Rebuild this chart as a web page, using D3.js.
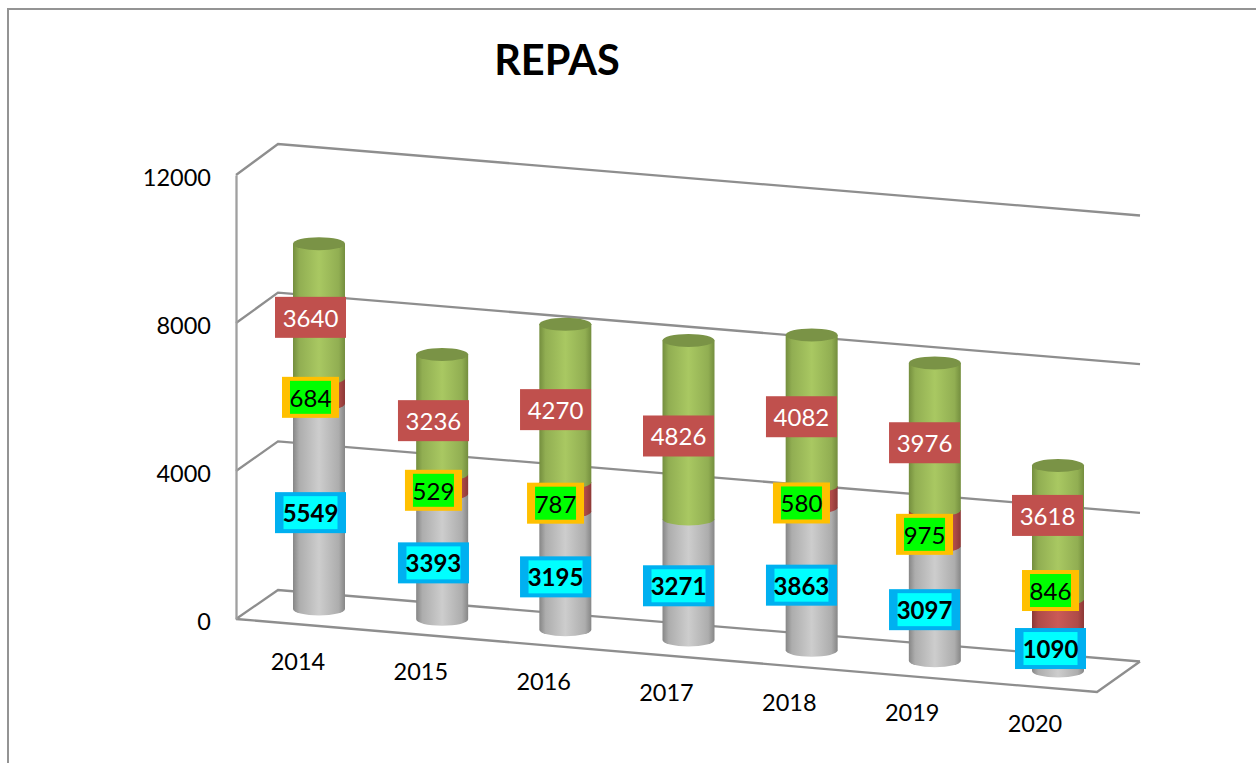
<!DOCTYPE html>
<html><head><meta charset="utf-8">
<script src="https://cdn.jsdelivr.net/npm/d3@7/dist/d3.min.js"></script>
<style>html,body{margin:0;background:#fff}svg{display:block}text{font-family:Lato,"Open Sans",sans-serif}</style>
</head><body><svg id="c" width="1256" height="763"></svg>
<script>
const years = [2014,2015,2016,2017,2018,2019,2020];
const grayValues = [5549,3393,3195,3271,3863,3097,1090];
const redValues = [684,529,787,null,580,975,846];
const greenValues = [3640,3236,4270,4826,4082,3976,3618];
const yTicks = [0,4000,8000,12000];
const chartTitle = "REPAS";

const W=1256,H=763;
const svg=d3.select("#c");
const defs=svg.append("defs");
const y=d3.scaleLinear().domain([0,12000]).range([619,175]);
const yBack=d3.scaleLinear().domain([0,12000]).range([590,144]);
const idx=d3.scaleLinear().domain([0,years.length-1]);
const x=d3.scalePoint().domain(years).range([319,1058]);
const base=idx.copy().range([609,671]);
const labelX=idx.copy().range([298,1035]);
const rx=26, ry=6.5;
const backLeft=278, backRight=1140, backDrop=71.5;
const floorRight=1097, floorDrop=73;

function grad(id,edge,mid){
  const g=defs.append("linearGradient").attr("id",id);
  [[0,edge],[.12,d3.interpolateRgb(edge,mid)(.55)],[.5,mid],[.88,d3.interpolateRgb(edge,mid)(.55)],[1,edge]]
    .forEach(([o,c])=>g.append("stop").attr("offset",o).attr("stop-color",c));
}
grad("gGray","#868686","#cdcdcd");
grad("gRed","#8c3836","#cb5a57");
grad("gGreen","#748e3e","#a9c862");

// frame
svg.append("path").attr("d",`M8,763V9H1256`).attr("fill","none").attr("stroke","#949494").attr("stroke-width",2);

// walls and floor
const grid=svg.append("g").attr("fill","none").attr("stroke","#8e8e8e").attr("stroke-width",2.3);
yTicks.forEach(t=>{
  grid.append("path").attr("d",`M236,${y(t)}L${backLeft},${yBack(t)}L${backRight},${yBack(t)+backDrop}`);
});
grid.append("path").attr("d",`M236,${y(0)}L${floorRight},${y(0)+floorDrop}L${backRight},${yBack(0)+backDrop}`);

// y axis
const axis=d3.axisLeft(y).tickValues(yTicks).tickSize(0).tickPadding(25).tickFormat(d3.format("d"));
const ag=svg.append("g").attr("transform","translate(236,0)").call(axis);
ag.select(".domain").attr("stroke","#a0a0a0").attr("stroke-width",2.3);
ag.selectAll("text").attr("font-size",23.5).attr("fill","#000").attr("font-family","Lato").attr("dy","0.62em").attr("y",-4);

// cylinders
const stack=years.map((yr,i)=>{
  let acc=0;
  return [["gGray",grayValues[i]],["gRed",redValues[i]],["gGreen",greenValues[i]]].map(([f,v])=>{
    const s={f,v,i,start:acc,end:acc+(v||0)};acc=s.end;return s;
  });
});
const h=v=>y(0)-y(v);
const cyl=svg.append("g");
stack.forEach((segs,i)=>{
  const cx=x(years[i]),b=base(i);
  segs.filter(s=>s.v).forEach(s=>{
    const y0=b-h(s.start),y1=b-h(s.end);
    cyl.append("path").attr("fill",`url(#${s.f})`)
      .attr("d",`M${cx-rx},${y1}V${y0}A${rx},${ry} 0 0 0 ${cx+rx},${y0}V${y1}Z`);
  });
  const top=b-h(segs[2].end);
  cyl.append("ellipse").attr("cx",cx).attr("cy",top).attr("rx",rx).attr("ry",ry).attr("fill","#7a9346");
});

// category labels
svg.append("g").selectAll("text").data(years).join("text")
  .attr("x",(d,i)=>labelX(i)).attr("y",(d,i)=>base(i)+60.5)
  .attr("text-anchor","middle").attr("font-size",23.5).attr("fill","#000").text(d=>d);

// title
svg.append("text").attr("x",557).attr("y",75).attr("text-anchor","middle")
  .attr("font-size",41.5).attr("font-weight",700).attr("fill","#000").text(chartTitle);

// data labels
const nudgeX=[-8.5,-8.7,-9.8,-10,-10.2,-10.3,-7.5];
const nudgeY=6.3;
const moved={"2:6":[-10.5,-17],"1:6":[-7.5,-24.5],"0:6":[-7.5,-2.3]};
const styles=[
 {outer:"#00b0f0",inner:"#00ffff",text:"#000",weight:700,ow:71,iw:54,ih:33},
 {outer:"#ffc000",inner:"#00ff00",text:"#000",weight:400,ow:57,iw:41,ih:33},
 {outer:"#c0504d",inner:null,text:"#fff",weight:400,ow:71,iw:0,ih:0},
];
const lg=svg.append("g");
stack.forEach((segs,i)=>segs.forEach((s,k)=>{
  if(!s.v) return;
  const mid=base(i)-h((s.start+s.end)/2);
  const [dx,dy]=moved[k+":"+i]||[nudgeX[i],nudgeY];
  const cx=x(years[i])+dx, cy=mid+dy, st=styles[k];
  lg.append("rect").attr("x",cx-st.ow/2).attr("y",cy-20.5).attr("width",st.ow).attr("height",41).attr("fill",st.outer);
  if(st.inner) lg.append("rect").attr("x",cx-st.iw/2).attr("y",cy-16.5).attr("width",st.iw).attr("height",st.ih).attr("fill",st.inner);
  lg.append("text").attr("x",cx).attr("y",cy+9.5).attr("text-anchor","middle")
    .attr("font-size",24).attr("font-weight",st.weight).attr("fill",st.text).text(s.v);
}));
</script></body></html>
